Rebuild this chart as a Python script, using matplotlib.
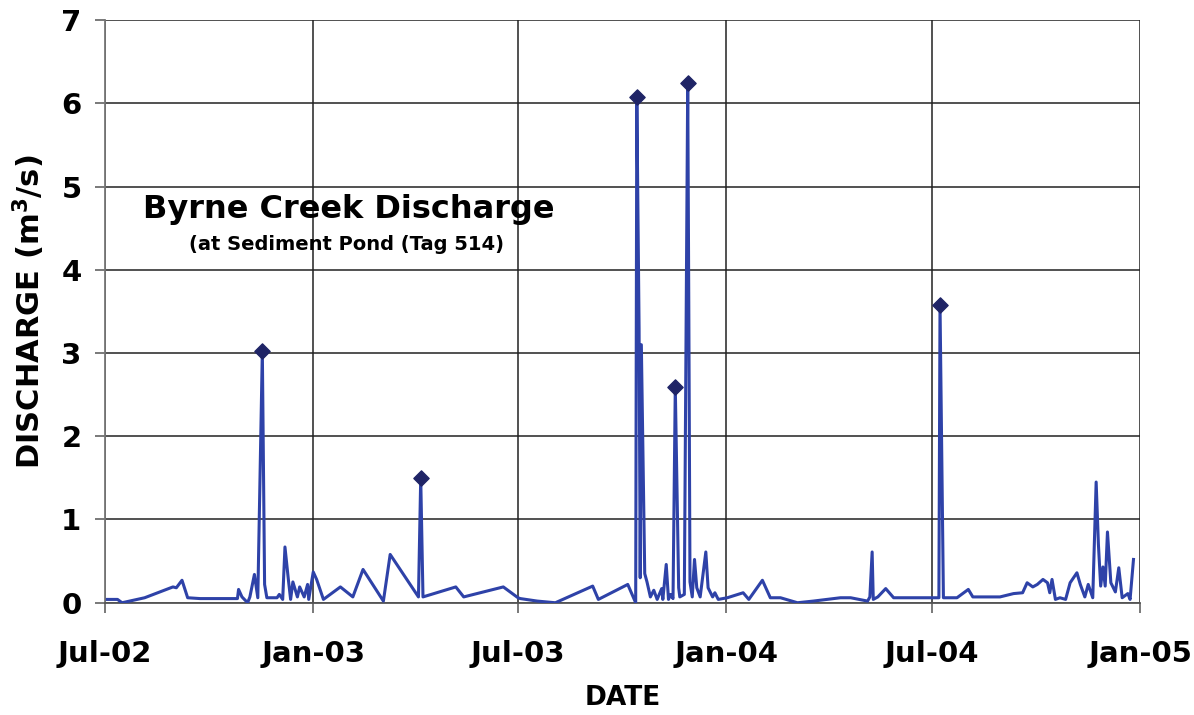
import numpy as np
import pandas as pd
import matplotlib
matplotlib.use("Agg")
import matplotlib.pyplot as plt
import matplotlib.dates as mdates

plt.rcParams['font.family'] = ['DejaVu Sans']
plt.rcParams['font.weight'] = 'bold'
plt.rcParams['mathtext.default'] = 'bf'

start = pd.Timestamp("2002-07-01")

# days after 1 Jul 2002 and discharge (m3/s)
days = [2, 11, 15, 25, 35, 60, 63, 68, 73, 84, 117, 118, 121, 126, 128, 132, 135,
        139, 141, 143, 152, 154, 157, 159, 162, 164, 166, 170, 172, 176, 179, 180,
        184, 187, 193, 208, 219, 228, 246, 252, 277, 279, 281, 310, 317, 352, 365,
        367, 382, 398, 431, 436, 462, 469, 470, 472, 473, 474, 477, 479, 482, 485,
        488, 492, 493, 496, 498, 500, 502, 504, 507, 508, 512, 515, 516, 517, 519,
        521, 523, 526, 531, 533, 537, 539, 542, 550, 564, 569, 581, 588, 597, 612,
        626, 650, 659, 674, 676, 678, 679, 683, 690, 697, 737, 738, 741, 753, 763,
        767, 791, 803, 811, 815, 820, 824, 829, 833, 835, 837, 840, 844, 849, 853,
        859, 862, 866, 869, 873, 876, 878, 880, 882, 884, 886, 889, 893, 896, 899,
        904, 906, 909]
discharge = [0.04, 0.04, 0.0, 0.03, 0.06, 0.19, 0.18, 0.27, 0.06, 0.05, 0.05, 0.16,
             0.07, 0.0, 0.07, 0.34, 0.06, 3.02, 0.22, 0.06, 0.06, 0.10, 0.04, 0.67,
             0.28, 0.04, 0.25, 0.07, 0.19, 0.07, 0.22, 0.04, 0.37, 0.28, 0.04, 0.19,
             0.07, 0.40, 0.02, 0.58, 0.07, 1.50, 0.07, 0.19, 0.07, 0.19, 0.06, 0.05,
             0.02, 0.0, 0.20, 0.04, 0.22, 0.0, 6.07, 3.3, 0.3, 3.1, 0.35, 0.25, 0.07,
             0.15, 0.04, 0.17, 0.04, 0.46, 0.04, 0.10, 0.05, 2.59, 0.18, 0.07, 0.10,
             6.24, 3.4, 0.25, 0.07, 0.52, 0.18, 0.07, 0.61, 0.18, 0.07, 0.12, 0.04,
             0.06, 0.12, 0.04, 0.27, 0.06, 0.06, 0.0, 0.02, 0.06, 0.06, 0.02, 0.07,
             0.61, 0.04, 0.07, 0.17, 0.06, 0.06, 3.58, 0.06, 0.06, 0.16, 0.07, 0.07,
             0.11, 0.12, 0.24, 0.19, 0.22, 0.28, 0.24, 0.12, 0.28, 0.04, 0.06, 0.04,
             0.24, 0.36, 0.22, 0.07, 0.22, 0.06, 1.45, 0.70, 0.20, 0.43, 0.20, 0.85,
             0.24, 0.13, 0.42, 0.06, 0.11, 0.04, 0.52]

# marked peak events
peak_days = [139, 279, 470, 504, 515, 738]
peak_vals = [3.02, 1.50, 6.07, 2.59, 6.24, 3.58]

dates = start + pd.to_timedelta(days, unit="D")
peak_dates = start + pd.to_timedelta(peak_days, unit="D")

fig = plt.figure(figsize=(11.94, 7.15), dpi=100)
ax = fig.add_axes([0.088, 0.157, 0.867, 0.815])

ax.plot(dates, discharge, color='#2e42a8', lw=2.2, zorder=3)
ax.scatter(peak_dates, peak_vals, marker='D', s=60, color='#1f2466', zorder=4)

ax.set_xlim(pd.Timestamp("2002-07-01"), pd.Timestamp("2005-01-01"))
ax.set_ylim(0, 7)
ax.xaxis.set_major_locator(mdates.MonthLocator(bymonth=[1, 7]))
ax.xaxis.set_major_formatter(mdates.DateFormatter("%b-%y"))
ax.set_yticks(range(0, 8))

ax.grid(True, color='#222222', lw=1.1)
ax.set_axisbelow(True)
for side in ['top', 'right']:
    ax.spines[side].set_visible(False)
ax.spines['left'].set_color('#777777')
ax.spines['bottom'].set_color('#555555')
ax.spines['left'].set_linewidth(1.3)
ax.spines['bottom'].set_linewidth(1.3)

ax.tick_params(axis='both', labelsize=21, length=7, width=1.1, color='#555555')
ax.tick_params(axis='x', pad=20)
ax.tick_params(axis='y', pad=10)

ax.set_xlabel("DATE", fontsize=19, fontweight='bold', labelpad=12)
ax.set_ylabel("DISCHARGE (m$^{3}$/s)", fontsize=22, fontweight='bold', labelpad=10)

ax.text(0.235, 0.675, "Byrne Creek Discharge", transform=ax.transAxes,
        fontsize=23, fontweight='bold', ha='center', va='center')
ax.text(0.233, 0.614, "(at Sediment Pond (Tag 514)", transform=ax.transAxes,
        fontsize=14, fontweight='bold', ha='center', va='center')

fig.savefig("out.png", dpi=100)
